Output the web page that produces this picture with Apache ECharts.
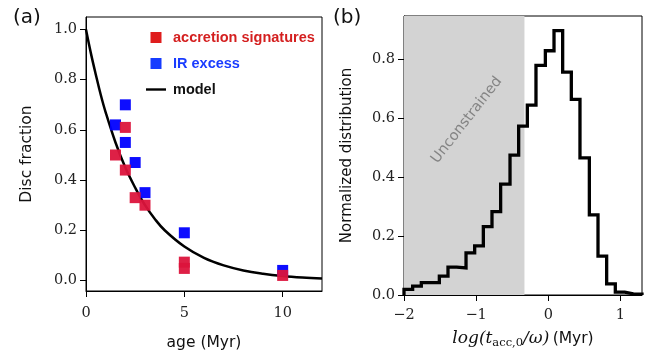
<!DOCTYPE html>
<html>
<head>
<meta charset="utf-8">
<script src="https://cdn.jsdelivr.net/npm/echarts@6/dist/echarts.min.js"></script>
<style>
html, body { margin: 0; padding: 0; background: #fff; }
#chart { width: 647px; height: 356px; }
</style>
</head>
<body>
<div id="chart"></div>
<script>
// panel (a) : disc fraction vs age
var accAge = [1.5, 2, 2, 2.5, 3, 5, 5, 10];
var accFrac = [0.50, 0.61, 0.44, 0.33, 0.30, 0.073, 0.048, 0.02];
var irAge = [1.5, 2, 2, 2.5, 3, 5, 10];
var irFrac = [0.62, 0.70, 0.55, 0.47, 0.35, 0.19, 0.04];
var modelAge = [0, 0.25, 0.5, 0.75, 1, 1.5, 2, 2.5, 3, 3.5, 4, 5, 6, 7, 8, 9, 10, 11, 12];
var modelFrac = [1.0, 0.905, 0.82, 0.74, 0.67, 0.55, 0.45, 0.37, 0.30, 0.245, 0.20, 0.135, 0.09, 0.06, 0.04, 0.027, 0.018, 0.012, 0.008];
var ageTicks = [0, 5, 10];
var fracTicks = [0, 0.2, 0.4, 0.6, 0.8, 1.0];

// panel (b) : histogram
var binEdges = [-2.00, -1.88, -1.76, -1.63, -1.51, -1.39, -1.27, -1.14, -1.02, -0.90, -0.78, -0.66, -0.53,
    -0.41, -0.29, -0.17, -0.04, 0.08, 0.20, 0.32, 0.44, 0.57, 0.69, 0.81, 0.93, 1.06, 1.18, 1.30];
var binHeights = [0.019, 0.030, 0.042, 0.042, 0.064, 0.095, 0.092, 0.143, 0.167, 0.232, 0.283, 0.377, 0.475,
    0.574, 0.645, 0.78, 0.83, 0.898, 0.757, 0.665, 0.466, 0.272, 0.132, 0.038, 0.010, 0.004, 0.003];
var logTicks = [-2, -1, 0, 1];
var distTicks = [0, 0.2, 0.4, 0.6, 0.8];
var unconstrainedEdge = -0.33;

function pairs(xs, ys) {
    var res = [];
    for (var i = 0; i < xs.length; i++) {
        res.push([xs[i], ys[i]]);
    }
    return res;
}

function histLine(edges, heights) {
    var res = [[edges[0], 0]];
    for (var i = 0; i < heights.length; i++) {
        res.push([edges[i], heights[i]]);
    }
    res.push([edges[edges.length - 1], heights[heights.length - 1]]);
    res.push([edges[edges.length - 1], 0]);
    return res;
}

var serif = 'DejaVu Serif';
var sans = 'DejaVu Sans';
var tickFmt1 = function (v) { return v.toFixed(1); };
var minusFmt = function (v) { return v < 0 ? '\u2212' + Math.abs(v) : String(v); };

var axisCommon = {
    axisLine: { show: true, onZero: false, lineStyle: { color: '#000', width: 1 } },
    axisTick: { show: true, length: 6, lineStyle: { color: '#000', width: 1 } },
    splitLine: { show: false }
};

function makeAxis(extra) {
    return echarts.util.merge(echarts.util.clone(axisCommon), extra, true);
}

var chart = echarts.init(document.getElementById('chart'));
chart.setOption({
    animation: false,
    grid: [
        { left: 86, right: 325, top: 17, bottom: 62, show: true, borderColor: '#000', borderWidth: 1, backgroundColor: 'transparent' },
        { left: 404, right: 5, top: 16, bottom: 61, show: true, borderColor: '#000', borderWidth: 1, backgroundColor: 'transparent' }
    ],
    xAxis: [
        makeAxis({
            type: 'value', gridIndex: 0, min: 0, max: 12,
            axisTick: { customValues: ageTicks },
            axisLabel: { customValues: ageTicks, margin: 15, fontFamily: serif, fontSize: 14.5, color: '#222' },
            name: 'age (Myr)', nameLocation: 'middle', nameGap: 44,
            nameTextStyle: { fontFamily: sans, fontSize: 15.5, color: '#111' }
        }),
        makeAxis({
            type: 'value', gridIndex: 1, min: -2, max: 1.3,
            axisTick: { customValues: logTicks },
            axisLabel: { customValues: logTicks, margin: 13, fontFamily: serif, fontSize: 14.5, color: '#222', formatter: minusFmt },
            name: '{m|log(t}{s|acc,0}{m|/\u03c9)} {n|(Myr)}', nameLocation: 'middle', nameGap: 34,
            nameTextStyle: {
                rich: {
                    m: { fontFamily: serif, fontStyle: 'italic', fontSize: 17, color: '#111', lineHeight: 20 },
                    s: { fontFamily: serif, fontSize: 11.5, color: '#111', lineHeight: 12, verticalAlign: 'bottom' },
                    n: { fontFamily: sans, fontSize: 15.5, color: '#111', lineHeight: 20 }
                }
            }
        })
    ],
    yAxis: [
        makeAxis({
            type: 'value', gridIndex: 0, min: -0.042, max: 1.05,
            axisTick: { customValues: fracTicks },
            axisLabel: { customValues: fracTicks, margin: 9, fontFamily: serif, fontSize: 14.5, color: '#222', formatter: tickFmt1 },
            name: 'Disc fraction', nameLocation: 'middle', nameGap: 51,
            nameTextStyle: { fontFamily: sans, fontSize: 15.5, color: '#111' }
        }),
        makeAxis({
            type: 'value', gridIndex: 1, min: 0, max: 0.948,
            axisTick: { customValues: distTicks },
            axisLabel: { customValues: distTicks, margin: 9, fontFamily: serif, fontSize: 14.5, color: '#222', formatter: tickFmt1 },
            name: 'Normalized distribution', nameLocation: 'middle', nameGap: 49,
            nameTextStyle: { fontFamily: sans, fontSize: 15, color: '#111' }
        })
    ],
    legend: {
        orient: 'vertical', left: 146, top: 30, padding: 0, itemWidth: 20, itemHeight: 11, itemGap: 11,
        selectedMode: false,
        textStyle: { fontFamily: 'Liberation Sans', fontWeight: 'bold', fontSize: 14.5, padding: [0, 0, 0, 2] },
        data: [
            { name: 'accretion signatures', icon: 'path://M0,0h10v10h-10z', itemStyle: { color: '#dd1111' }, textStyle: { color: '#d41f1f' } },
            { name: 'IR excess', icon: 'path://M0,0h10v10h-10z', itemStyle: { color: '#0a32ff' }, textStyle: { color: '#1a3cff' } },
            { name: 'model', icon: 'path://M0,0h20v2.4h-20z', itemStyle: { color: '#000' }, textStyle: { color: '#111' } }
        ]
    },
    graphic: [
        { type: 'text', left: 13, top: 8, style: { text: '(a)', fontFamily: sans, fontSize: 20, fill: '#111' } },
        { type: 'text', left: 333, top: 8, style: { text: '(b)', fontFamily: sans, fontSize: 20, fill: '#111' } }
    ],
    series: [
        {
            name: 'model', type: 'line', xAxisIndex: 0, yAxisIndex: 0,
            data: pairs(modelAge, modelFrac), smooth: 0.4, symbol: 'none',
            itemStyle: { color: '#000' },
            lineStyle: { color: '#000', width: 2.5 }, z: 2
        },
        {
            name: 'IR excess', type: 'scatter', xAxisIndex: 0, yAxisIndex: 0,
            data: pairs(irAge, irFrac), symbol: 'rect', symbolSize: 11,
            itemStyle: { color: '#0000ff', opacity: 0.95 }, z: 3
        },
        {
            name: 'accretion signatures', type: 'scatter', xAxisIndex: 0, yAxisIndex: 0,
            data: pairs(accAge, accFrac), symbol: 'rect', symbolSize: 11,
            itemStyle: { color: '#dc143c', opacity: 0.95 }, z: 4
        },
        {
            name: 'shade', type: 'line', xAxisIndex: 1, yAxisIndex: 1, data: [], z: 1,
            markArea: {
                silent: true,
                itemStyle: { color: '#d3d3d3' },
                data: [[{ xAxis: -2 }, { xAxis: unconstrainedEdge }]]
            }
        },
        {
            name: 'note', type: 'scatter', xAxisIndex: 1, yAxisIndex: 1,
            data: [[-1.13, 0.594]], symbolSize: 0, z: 2, silent: true,
            label: {
                show: true, position: 'inside', formatter: 'Unconstrained', rotate: 52,
                fontFamily: sans, fontSize: 14.5, color: '#707070'
            }
        },
        {
            name: 'hist', type: 'line', xAxisIndex: 1, yAxisIndex: 1,
            data: histLine(binEdges, binHeights), step: 'end', symbol: 'none',
            lineStyle: { color: '#000', width: 3.3, join: 'miter', cap: 'butt' }, z: 5
        }
    ]
});
</script>
</body>
</html>
